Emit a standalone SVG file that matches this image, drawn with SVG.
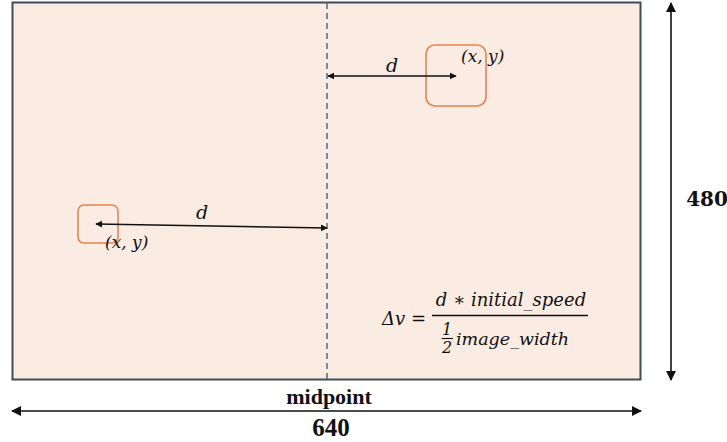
<svg xmlns="http://www.w3.org/2000/svg" width="727" height="442" viewBox="0 0 727 442">
<style>
.math{font-family:"DejaVu Serif","Liberation Serif",serif;font-style:italic;fill:#111}
.lbl{font-family:"Liberation Serif",serif;font-weight:bold;fill:#111}
.box{fill:none;stroke:#e58350;stroke-width:1.6}
.ln{stroke:#111;stroke-width:1.6;fill:none}
</style>
<defs>
<marker id="ah" viewBox="0 0 10 10" refX="9" refY="5" markerWidth="10" markerHeight="10" orient="auto-start-reverse" markerUnits="userSpaceOnUse">
<path d="M0,0 L10,5 L0,10 Z" fill="#111"/>
</marker>
<marker id="ahs" viewBox="0 0 10 10" refX="9" refY="5" markerWidth="7" markerHeight="7" orient="auto-start-reverse" markerUnits="userSpaceOnUse">
<path d="M0,0 L10,5 L0,10 Z" fill="#111"/>
</marker>
</defs>
<g id="frame">
<rect x="12.5" y="2.5" width="628" height="377" fill="#fbece3" stroke="#3d4d59" stroke-width="2"/>
<line x1="327" y1="3" x2="327" y2="379" stroke="#4d6a84" stroke-width="1.5" stroke-dasharray="6,4"/>
</g>
<g id="box-top">
<rect class="box" x="426" y="45" width="60" height="61" rx="9"/>
<text class="math" x="461" y="62" font-size="17">(x, y)</text>
</g>
<g id="box-left">
<rect class="box" x="78" y="205" width="40" height="38" rx="6"/>
<text class="math" x="105" y="248" font-size="17">(x, y)</text>
</g>
<g id="connectors">
<line class="ln" x1="328" y1="76" x2="456" y2="76" marker-start="url(#ahs)" marker-end="url(#ahs)"/>
<line class="ln" x1="96" y1="224" x2="327" y2="228" marker-start="url(#ahs)" marker-end="url(#ahs)"/>
<line class="ln" x1="12" y1="411" x2="641" y2="411" marker-start="url(#ah)" marker-end="url(#ah)"/>
<line class="ln" x1="671" y1="3" x2="671" y2="380" marker-start="url(#ah)" marker-end="url(#ah)"/>
</g>
<g id="labels">
<text class="math" x="392" y="72" font-size="19" text-anchor="middle">d</text>
<text class="math" x="202" y="219" font-size="19" text-anchor="middle">d</text>
<text class="lbl" x="329" y="404" font-size="22" text-anchor="middle">midpoint</text>
<text class="lbl" x="331" y="436" font-size="25" text-anchor="middle">640</text>
<text x="707" y="206" font-size="20" text-anchor="middle" font-family="'DejaVu Serif',serif" font-weight="bold" fill="#111">480</text>
</g>
<g id="formula">
<text class="math" x="382" y="325" font-size="18" font-style="normal">Δ<tspan font-style="italic">v</tspan> =</text>
<text class="math" x="511" y="306" font-size="18" text-anchor="middle">d ∗ initial_speed</text>
<line x1="432" y1="315.5" x2="588" y2="315.5" stroke="#111" stroke-width="1.3"/>
<text class="math" x="447" y="335" font-size="16" font-style="normal" text-anchor="middle">1</text>
<line x1="441.5" y1="338.5" x2="453" y2="338.5" stroke="#111" stroke-width="1.1"/>
<text class="math" x="447" y="353" font-size="16" font-style="normal" text-anchor="middle">2</text>
<text class="math" x="456" y="345" font-size="17.5">image_width</text>
</g>
</svg>
